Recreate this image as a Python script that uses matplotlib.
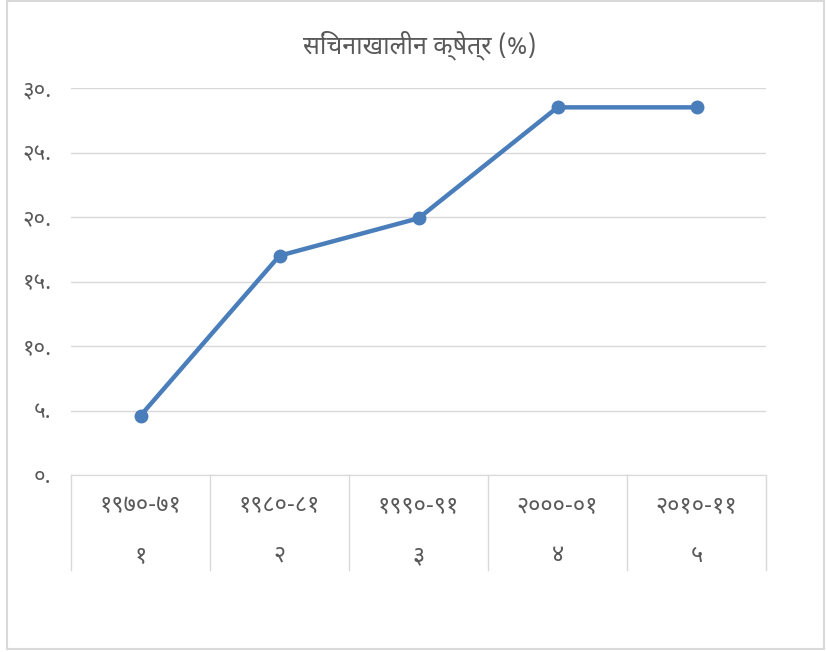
import matplotlib
matplotlib.use('Agg')
import matplotlib.pyplot as plt
from matplotlib.patches import Rectangle

title = 'सिंचनाखालीन क्षेत्र (%)'
years = ['१९७०-७१', '१९८०-८१', '१९९०-९१', '२०००-०१', '२०१०-११']
idx_labels = ['१', '२', '३', '४', '५']
values = [4.6, 17.0, 19.9, 28.5, 28.5]
yticks = [0, 5, 10, 15, 20, 25, 30]
ytick_labels = ['०.', '५.', '१०.', '१५.', '२०.', '२५.', '३०.']

plt.rcParams['font.family'] = ['Noto Sans Devanagari', 'Lohit Devanagari', 'DejaVu Sans']

grey = '#595959'
gridc = '#d9d9d9'
blue = '#4a7ebb'

fig = plt.figure(figsize=(8.26, 6.52), dpi=100)
# outer border
fig.patches.append(Rectangle((0.008, 0.004), 0.99, 0.994, transform=fig.transFigure,
                             fill=False, edgecolor='#d9d9d9', linewidth=1.5))

W, H = 826., 652.
ax = fig.add_axes([71/W, 1-475/H, (766-71)/W, (475-88)/H])
x = range(len(values))
ax.plot(x, values, color=blue, linewidth=3.2, marker='o', markersize=9, zorder=3)
ax.set_xlim(-0.5, len(values)-0.5)
ax.set_ylim(0, 30)
ax.set_yticks(yticks)
ax.set_yticklabels(ytick_labels, color=grey, fontsize=16)
ax.set_xticks([])
ax.tick_params(axis='y', length=0, pad=14)
for s in ['top', 'right', 'left']:
    ax.spines[s].set_visible(False)
ax.spines['bottom'].set_color(gridc)
ax.grid(axis='y', color=gridc, linewidth=1)
ax.set_axisbelow(True)

# multi level category axis
trans = ax.get_xaxis_transform()
dy = (570-475)/(475-88)
for i in range(len(values)+1):
    ax.plot([i-0.5, i-0.5], [0, -dy], color=gridc, linewidth=1, transform=trans, clip_on=False)
for i in x:
    ax.text(i, -(506-475)/(475-88), years[i], transform=trans, ha='center', va='center',
            color=grey, fontsize=17)
    ax.text(i, -(556-475)/(475-88), idx_labels[i], transform=trans, ha='center', va='center',
            color=grey, fontsize=17)

fig.text(420/W, 1-45/H, title, ha='center', va='center', color=grey, fontsize=18)

fig.savefig('out.png', dpi=100)
